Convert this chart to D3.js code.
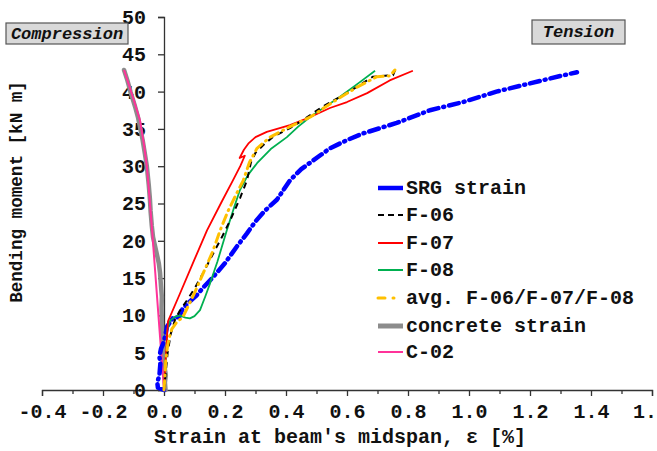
<!DOCTYPE html>
<html><head><meta charset="utf-8">
<script src="https://cdn.jsdelivr.net/npm/d3@7"></script>
<style>
html,body{margin:0;padding:0;background:#fff;overflow:hidden}
svg{display:block;font-family:"Liberation Mono","Courier New",monospace;font-weight:bold}
</style></head><body>
<svg id="c" width="657" height="451"></svg>
<script>
// ---- data (strain %, moment kN m) ----
const xTicks = [-0.4,-0.2,0.0,0.2,0.4,0.6,0.8,1.0,1.2,1.4,1.6];
const xTickLabels = ["-0.4","-0.2","0.0","0.2","0.4","0.6","0.8","1.0","1.2","1.4","1."];
const yTicks = [0,5,10,15,20,25,30,35,40,45,50];

const srgStrain = [[0,0],[-0.02,0.3],[-0.022,1],[-0.015,2],[-0.012,3.5],[-0.015,4.5],[-0.01,5.5],[0,6.5],[0.01,8.5],[0.03,9.7],[0.05,9.8],[0.06,10.8],[0.08,11.7],[0.107,12.7],[0.13,13.8],[0.16,15.1],[0.2,17],[0.24,19.3],[0.272,21],[0.3,22.6],[0.33,24],[0.37,25.5],[0.413,28.1],[0.45,29.6],[0.49,30.8],[0.544,32.4],[0.6,33.5],[0.653,34.4],[0.763,35.8],[0.872,37.5],[0.98,38.6],[1.09,40],[1.2,41.1],[1.3,42.1],[1.354,42.6]];
const f06 = [[0,0],[0.005,2],[0.012,5],[0.022,7.5],[0.036,9.4],[0.05,10.5],[0.075,12],[0.1,13.6],[0.13,15.8],[0.16,18.2],[0.19,20.5],[0.22,23],[0.25,25.8],[0.272,28.1],[0.285,30.5],[0.3,31.8],[0.33,33],[0.36,34],[0.413,35.1],[0.456,36.2],[0.52,38],[0.6,39.8],[0.685,42],[0.751,42.2],[0.757,42.8]];
const f07 = [[0,0],[0.004,3],[0.008,6],[0.013,9.2],[0.05,12.7],[0.1,17.5],[0.141,21.4],[0.19,25.3],[0.226,28.1],[0.25,30],[0.265,31.4],[0.248,31.1],[0.262,32.2],[0.278,33.1],[0.3,33.9],[0.337,34.6],[0.413,35.5],[0.48,36.6],[0.544,37.8],[0.6,38.6],[0.666,39.8],[0.74,41.5],[0.816,42.8]];
const f08 = [[0,0],[0.004,3],[0.008,6],[0.01,8],[0.02,9.3],[0.035,9.8],[0.052,10],[0.07,9.7],[0.085,9.6],[0.1,9.9],[0.118,10.7],[0.135,12.5],[0.151,14.3],[0.175,17.2],[0.206,21.4],[0.23,24.5],[0.249,26.8],[0.275,28.8],[0.305,30.4],[0.35,32.3],[0.403,33.9],[0.44,35.3],[0.479,36.6],[0.577,39.3],[0.64,41.2],[0.692,42.8]];
const avgF = [[0,0],[0.003,2],[0.006,4],[0.012,6],[0.02,7.5],[0.026,8.2],[0.04,9],[0.062,9.8],[0.08,11.3],[0.1,13],[0.13,15.8],[0.16,18.6],[0.184,21.4],[0.21,24],[0.24,26.5],[0.26,28.1],[0.28,30.5],[0.305,32.4],[0.348,33.9],[0.413,35.3],[0.48,36.6],[0.55,38.5],[0.633,40.6],[0.698,42],[0.741,42.1],[0.757,42.9]];
const concrete = [[0.005,0],[0.003,1],[0.006,2],[0.002,3],[-0.003,4],[-0.004,5.5],[-0.005,7],[-0.007,9],[-0.008,11],[-0.007,12.5],[-0.01,14],[-0.013,15.7],[-0.017,17],[-0.025,18.5],[-0.036,20.5],[-0.04,22],[-0.044,24],[-0.046,25.5],[-0.05,27.5],[-0.056,29.9],[-0.062,31.5],[-0.07,33.5],[-0.08,35.5],[-0.085,36.5],[-0.095,38],[-0.11,40],[-0.12,41.5],[-0.131,42.9]];
const c02 = [[0,0],[-0.039,21.4],[-0.048,26],[-0.056,29.9],[-0.066,33],[-0.079,36.2],[-0.1,39],[-0.131,42.9]];

const legendLabels = ["SRG strain","F-06","F-07","F-08","avg. F-06/F-07/F-08","concrete strain","C-02"];

// ---- layout ----
const svg = d3.select("#c");
const x = d3.scaleLinear().domain([-0.4,1.6]).range([42,652]);
const y = d3.scaleLinear().domain([0,50]).range([390,17]);
const axisColor = "#333";

// x axis
const xAxis = svg.append("g").attr("transform",`translate(0,${y(0)})`)
  .call(d3.axisBottom(x).tickValues(xTicks).tickFormat((d,i)=>xTickLabels[i]).tickSizeOuter(0).tickSize(6).tickPadding(8));
const xMinor = svg.append("g").attr("transform",`translate(0,${y(0)})`)
  .call(d3.axisBottom(x).tickValues(d3.range(-0.3,1.6,0.2)).tickFormat("").tickSizeOuter(0).tickSize(4));
xMinor.select(".domain").remove();
[xAxis,xMinor].forEach(g=>{g.selectAll("line,path").attr("stroke",axisColor).attr("stroke-width",1.3);});
xAxis.selectAll("text").attr("font-size",20).attr("font-family","Liberation Mono").attr("font-weight","bold").attr("fill","#111");
// last label is cut by the frame in the original: end it at the page edge
xAxis.selectAll(".tick").filter((d,i)=>i===xTicks.length-1).select("text")
  .attr("text-anchor","end").attr("x",657 - x(1.6) - 0.5);

// y axis at x=0
const yAxis = svg.append("g").attr("transform",`translate(${x(0)},0)`)
  .call(d3.axisLeft(y).tickValues(yTicks).tickFormat(d3.format("d")).tickSizeOuter(0).tickSize(6).tickPadding(12));
yAxis.selectAll("line,path").attr("stroke",axisColor).attr("stroke-width",1.3);
yAxis.selectAll("text").attr("font-size",20).attr("font-family","Liberation Mono").attr("font-weight","bold").attr("fill","#111");

// titles
svg.append("text").attr("x",340).attr("y",443).attr("text-anchor","middle").attr("font-size",20).attr("fill","#111")
  .text("Strain at beam's midspan, \u03b5 [%]");
svg.append("text").attr("transform","translate(22,192) rotate(-90)").attr("text-anchor","middle").attr("font-size",17.6).attr("fill","#111")
  .text("Bending moment [kN m]");

// series
const line = d3.line().x(d=>x(d[0])).y(d=>y(d[1]));
const series = [
  {data:concrete, color:"#8c8c8c", w:4.5, dash:null, cap:"round", lw:5},
  {data:c02, color:"#ff3399", w:2, dash:null, cap:"butt", lw:2},
  {data:srgStrain, color:"#0000ff", w:4.5, dash:"10,5,1,5", cap:"round", lw:4.5, legendDash:null},
  {data:f08, color:"#00b050", w:1.8, dash:null, cap:"butt", lw:2},
  {data:f07, color:"#ff0000", w:1.8, dash:null, cap:"butt", lw:2},
  {data:f06, color:"#000000", w:2, dash:"6,5", cap:"butt", lw:2, legendDash:"6,4"},
  {data:avgF, color:"#ffc000", w:3, dash:"9,5,1,5", cap:"round", lw:3, legendDash:"7,8,1,20"}
];
series.forEach(s=>{
  svg.append("path").datum(s.data).attr("d",line).attr("fill","none")
    .attr("stroke",s.color).attr("stroke-width",s.w).attr("stroke-linecap",s.cap)
    .attr("stroke-linejoin","round").attr("stroke-dasharray",s.dash);
});

// legend
const legendOrder = [2,5,4,3,6,0,1];
const rowY = [188,215,243,270,298,326,352];
legendOrder.forEach((si,i)=>{
  const s = series[si];
  svg.append("line").attr("x1",378).attr("x2",403).attr("y1",rowY[i]).attr("y2",rowY[i])
    .attr("stroke",s.color).attr("stroke-width",s.lw)
    .attr("stroke-dasharray",s.legendDash===undefined?null:s.legendDash)
    .attr("stroke-linecap",si===6?"round":"butt");
  svg.append("text").attr("x",406).attr("y",rowY[i]+6).attr("font-size",20).attr("fill","#111").text(legendLabels[i]);
});

// annotation boxes
function box(x0,y0,w,h,label){
  svg.append("rect").attr("x",x0).attr("y",y0).attr("width",w).attr("height",h)
    .attr("fill","#d9d9d9").attr("stroke","#555").attr("stroke-width",1.2);
  svg.append("text").attr("x",x0+w/2).attr("y",y0+h/2+5).attr("text-anchor","middle")
    .attr("font-size",17).attr("font-style","italic").attr("fill","#111").text(label);
}
box(6,23,122,21,"Compression");
box(532,20,93,24,"Tension");
</script>
</body></html>
